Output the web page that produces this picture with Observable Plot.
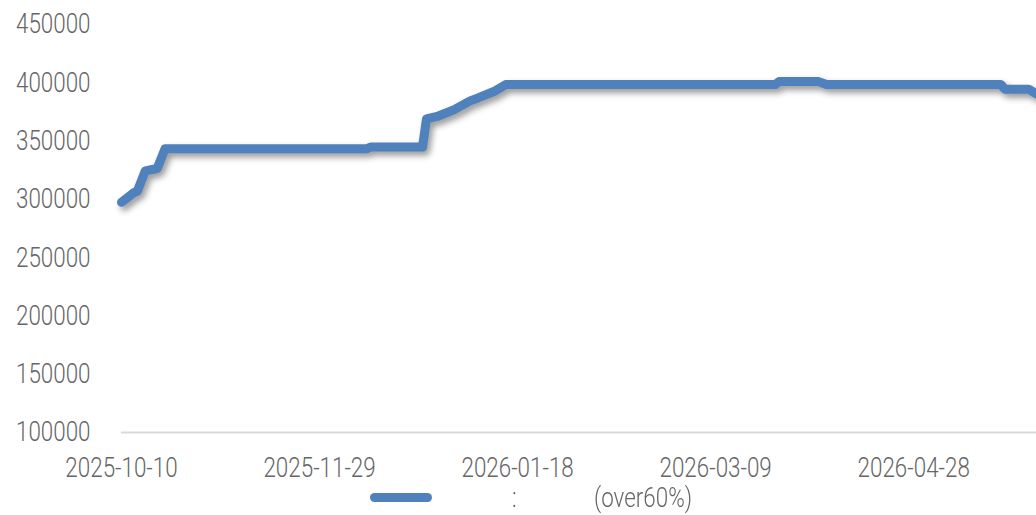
<!DOCTYPE html>
<html>
<head>
<meta charset="utf-8">
<script src="https://cdn.jsdelivr.net/npm/d3@7"></script>
<script src="https://cdn.jsdelivr.net/npm/@observablehq/plot@0.6"></script>
<style>
  html, body { margin: 0; padding: 0; background: #fff; }
  #wrap { width: 1036px; height: 515px; position: relative; overflow: hidden;
    font-family: Roboto, "Liberation Sans", sans-serif; font-weight: 300; }
  .ln path { filter: drop-shadow(3px 4px 3px rgba(0,0,0,0.4)); }
  #legend { position: absolute; left: 0; top: 484px; width: 1036px; height: 31px;
    color: #666; font-size: 28px; }
  #legend .sw { position: absolute; left: 370px; top: 9px; width: 62px; height: 9px;
    background: #4f81bd; border-radius: 5px; }
  #legend span { position: absolute; top: 2px; line-height: 24px;
    transform: scaleX(0.8); transform-origin: 0 50%; white-space: nowrap; }
</style>
</head>
<body>
<div id="wrap">
  <div id="chart"></div>
  <div id="legend">
    <div class="sw"></div>
    <span id="lg1" style="left:512px"></span>
    <span id="lg2" style="left:594px"></span>
  </div>
</div>
<script>
const dates = [
  "2025-10-10","2025-10-13","2025-10-14","2025-10-16","2025-10-19","2025-10-21",
  "2025-12-11","2025-12-12","2025-12-25","2025-12-26","2025-12-29","2026-01-02",
  "2026-01-06","2026-01-08","2026-01-12","2026-01-15","2026-03-24","2026-03-25",
  "2026-04-04","2026-04-06","2026-05-20","2026-05-21","2026-05-27","2026-05-29"
];
const values = [
  297500, 305500, 307000, 324500, 326500, 343500,
  343500, 345000, 345000, 369000, 371500, 377000,
  384500, 387000, 392500, 398500, 398500, 401000,
  401000, 398500, 398500, 394500, 394500, 390500
];
const xTickLabels = ["2025-10-10","2025-11-29","2026-01-18","2026-03-09","2026-04-28"];
const yTicks = [100000,150000,200000,250000,300000,350000,400000,450000];
const legendParts = [":", "(over60%)"];

document.getElementById("lg1").textContent = legendParts[0];
document.getElementById("lg2").textContent = legendParts[1];

const parse = d3.utcParse("%Y-%m-%d");
const data = dates.map((d, i) => ({date: parse(d), value: values[i]}));

const chart = Plot.plot({
  width: 1036,
  height: 484,
  marginLeft: 121,
  marginRight: 0,
  marginTop: 24,
  marginBottom: 52,
  style: {
    fontFamily: 'Roboto, "Liberation Sans", sans-serif',
    fontWeight: 300,
    fontSize: "28px",
    color: "#666",
    background: "#fff"
  },
  x: {
    type: "utc",
    domain: [parse("2025-10-10"), parse("2026-05-29")],
    ticks: xTickLabels.map(parse),
    tickFormat: d3.utcFormat("%Y-%m-%d"),
    tickSize: 0,
    tickPadding: 25,
    label: null
  },
  y: {
    domain: [100000, 450000],
    ticks: yTicks,
    tickFormat: d => String(d),
    tickSize: 0,
    tickPadding: 31,
    label: null
  },
  marks: [
    Plot.ruleY([100000], {stroke: "#d9d9d9", strokeWidth: 2, x1: parse("2025-10-10"), x2: parse("2026-05-29")}),
    Plot.line(data, {
      x: "date", y: "value",
      stroke: "#4f81bd", strokeWidth: 9,
      strokeLinejoin: "round", strokeLinecap: "round",
      className: "ln"
    })
  ]
});
document.getElementById("chart").appendChild(chart);
// condense tick label glyphs horizontally to mimic the narrow font
chart.querySelectorAll("text").forEach(t => {
  const len = t.getComputedTextLength();
  if (len > 0) {
    t.setAttribute("textLength", (len * 0.8).toFixed(1));
    t.setAttribute("lengthAdjust", "spacingAndGlyphs");
  }
});
</script>
</body>
</html>
